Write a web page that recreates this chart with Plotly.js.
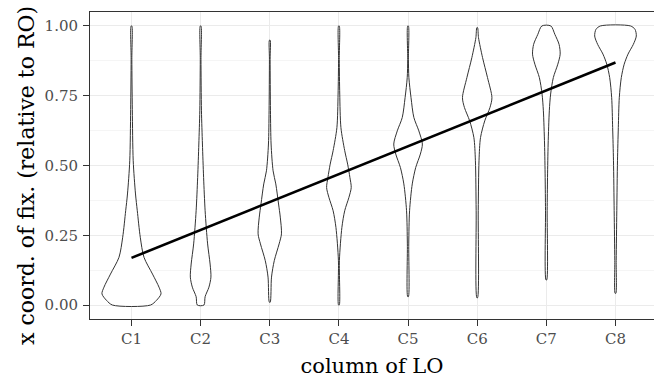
<!DOCTYPE html>
<html>
<head>
<meta charset="utf-8">
<script src="https://cdn.plot.ly/plotly-3.0.1.min.js"></script>
<style>html,body{margin:0;padding:0;background:#fff;}#chart{width:654px;height:378px;}</style>
</head>
<body>
<div id="chart"></div>
<script>
// categories
const categories = ["C1","C2","C3","C4","C5","C6","C7","C8"];
// violin outlines: y levels and half-widths (in category units)
const yC1 = [0.00,0.017,0.04,0.064,0.111,0.171,0.243,0.338,0.398,0.517,0.70,0.88,1.00];
const wC1 = [0.275,0.362,0.427,0.398,0.304,0.181,0.127,0.084,0.058,0.025,0.012,0.005,0.005];
const yC2 = [0.00,0.03,0.064,0.10,0.147,0.219,0.338,0.457,0.577,0.696,0.88,1.00];
const wC2 = [0.048,0.065,0.12,0.149,0.137,0.101,0.065,0.043,0.026,0.012,0.005,0.005];
const yC3 = [0.01,0.10,0.159,0.219,0.255,0.315,0.362,0.434,0.481,0.577,0.696,0.88,0.949];
const wC3 = [0.006,0.025,0.065,0.135,0.169,0.152,0.127,0.087,0.048,0.019,0.010,0.005,0.005];
const yC4 = [0.00,0.159,0.278,0.338,0.386,0.421,0.457,0.505,0.553,0.636,0.756,0.88,1.00];
const wC4 = [0.005,0.007,0.043,0.084,0.145,0.178,0.159,0.126,0.084,0.029,0.012,0.005,0.005];
const yC5 = [0.03,0.219,0.338,0.434,0.493,0.541,0.577,0.624,0.672,0.743,0.815,0.88,1.00];
const wC5 = [0.005,0.010,0.022,0.061,0.111,0.178,0.207,0.156,0.084,0.043,0.012,0.005,0.005];
const yC6 = [0.026,0.338,0.517,0.60,0.66,0.708,0.743,0.815,0.887,0.958,0.994];
const wC6 = [0.005,0.015,0.026,0.048,0.109,0.185,0.213,0.149,0.077,0.019,0.005];
const yC7 = [0.09,0.338,0.457,0.577,0.696,0.756,0.815,0.863,0.899,0.934,0.97,1.00];
const wC7 = [0.005,0.012,0.017,0.026,0.043,0.062,0.101,0.166,0.20,0.184,0.123,0.065];
const yC8 = [0.042,0.159,0.338,0.517,0.636,0.743,0.815,0.863,0.899,0.934,0.964,0.988,1.00];
const wC8 = [0.005,0.010,0.019,0.029,0.041,0.055,0.084,0.126,0.181,0.258,0.301,0.282,0.217];
// linear fit end points
const fitX = ["C1","C8"];
const fitY = [0.169, 0.869];
// tick labels
const yTickVals = [0, 0.25, 0.5, 0.75, 1];
const yTickText = ["0.00","0.25","0.50","0.75","1.00"];
const xTitle = "column of LO";
const yTitle = "x coord. of fix. (relative to RO)";

const ys = [yC1,yC2,yC3,yC4,yC5,yC6,yC7,yC8];
const ws = [wC1,wC2,wC3,wC4,wC5,wC6,wC7,wC8];

const traces = [];
categories.forEach((c, k) => {
  const pos = k + 1;
  const y = ys[k], w = ws[k];
  const xs = [], yy = [];
  for (let i = 0; i < y.length; i++) { xs.push(pos - w[i]); yy.push(y[i]); }
  for (let i = y.length - 1; i >= 0; i--) { xs.push(pos + w[i]); yy.push(y[i]); }
  xs.push(xs[0]); yy.push(yy[0]);
  traces.push({
    type: "scatter", mode: "lines", x: xs, y: yy,
    fill: "toself", fillcolor: "#ffffff",
    line: {color: "#333333", width: 1, shape: "spline", smoothing: 0.8},
    hoverinfo: "skip", showlegend: false
  });
});
traces.push({
  type: "scatter", mode: "lines",
  x: fitX.map(c => categories.indexOf(c) + 1), y: fitY,
  line: {color: "#000000", width: 2.6},
  showlegend: false, hoverinfo: "skip"
});

const font = "DejaVu Serif, serif";
const layout = {
  width: 654, height: 378,
  margin: {l: 90, r: 0, t: 12, b: 59, autoexpand: false},
  paper_bgcolor: "#ffffff", plot_bgcolor: "#ffffff",
  font: {family: font, color: "#4D4D4D"},
  showlegend: false,
  xaxis: {
    range: [0.4, 8.557],
    tickmode: "array", tickvals: categories.map((c, i) => i + 1), ticktext: categories,
    ticks: "outside", ticklen: 6, tickcolor: "#333333", tickwidth: 1,
    tickfont: {family: font, size: 15, color: "#4D4D4D"},
    showgrid: true, gridcolor: "#EBEBEB", gridwidth: 1,
    showline: true, mirror: true, linecolor: "#333333", linewidth: 1,
    zeroline: false,
    title: {text: xTitle, font: {family: font, size: 21, color: "#000000"}, standoff: 11}
  },
  yaxis: {
    range: [-0.05, 1.05],
    tickmode: "array", tickvals: yTickVals, ticktext: yTickText,
    ticks: "outside", ticklen: 6, tickcolor: "#333333", tickwidth: 1,
    ticklabelstandoff: 2,
    tickfont: {family: font, size: 15, color: "#4D4D4D"},
    showgrid: true, gridcolor: "#EBEBEB", gridwidth: 1,
    minor: {tickmode: "array", tickvals: [0.125, 0.375, 0.625, 0.875], showgrid: true, gridcolor: "#EBEBEB", gridwidth: 0.5, ticks: ""},
    showline: true, mirror: true, linecolor: "#333333", linewidth: 1,
    zeroline: false
  },
  annotations: [{
    text: yTitle, textangle: -90, showarrow: false,
    xref: "paper", yref: "paper", x: -0.1135, y: 0.469,
    xanchor: "center", yanchor: "middle",
    font: {family: font, size: 22, color: "#000000"}
  }]
};
Plotly.newPlot("chart", traces, layout, {staticPlot: true, displayModeBar: false});
</script>
</body>
</html>
